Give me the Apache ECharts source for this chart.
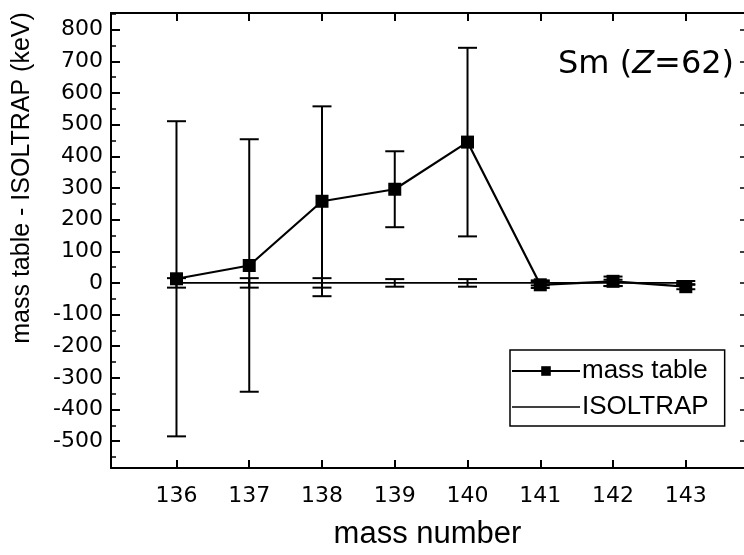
<!DOCTYPE html>
<html>
<head>
<meta charset="utf-8">
<script src="https://cdn.jsdelivr.net/npm/echarts@6/dist/echarts.min.js"></script>
<style>
html,body{margin:0;padding:0;background:#fff;}
#chart{width:744px;height:555px;}
</style>
</head>
<body>
<div id="chart"></div>
<script>
const masses = [136, 137, 138, 139, 140, 141, 142, 143];
const massTable = [13, 55, 258, 296, 445, -6, 5, -12];
const massTableErr = [498, 399, 300, 120, 298, 10, 15, 8];
const isoltrap = [0, 0, 0, 0, 0, 0, 0, 0];
const isoltrapErr = [15, 15, 15, 12, 12, 8, 10, 6];
const yTicks = [-500, -400, -300, -200, -100, 0, 100, 200, 300, 400, 500, 600, 700, 800];
const yMinorTicks = [-550, -450, -350, -250, -150, -50, 50, 150, 250, 350, 450, 550, 650, 750, 850];

const ARIAL = 'Liberation Sans, Arial, Helvetica, sans-serif';
const WIDE = 'DejaVu Sans, Liberation Sans, sans-serif';
const X_MIN = 135.1, X_MAX = 143.8, Y_MIN = -585, Y_MAX = 853;

function errData(vals, errs) {
  return masses.map((m, i) => [m, vals[i] - errs[i], vals[i] + errs[i]]);
}
function errRender(params, api) {
  const x = api.value(0);
  const lo = api.coord([x, api.value(1)]);
  const hi = api.coord([x, api.value(2)]);
  const w = 9.5;
  const style = { stroke: '#000', lineWidth: 2 };
  return {
    type: 'group',
    children: [
      { type: 'line', shape: { x1: lo[0], y1: lo[1], x2: hi[0], y2: hi[1] }, style },
      { type: 'line', shape: { x1: lo[0] - w, y1: lo[1], x2: lo[0] + w, y2: lo[1] }, style },
      { type: 'line', shape: { x1: hi[0] - w, y1: hi[1], x2: hi[0] + w, y2: hi[1] }, style }
    ]
  };
}

const chart = echarts.init(document.getElementById('chart'), null, { renderer: 'canvas' });
const axisLine = { show: true, onZero: false, lineStyle: { color: '#000', width: 2 } };
const option = {
  animation: false,
  backgroundColor: '#fff',
  grid: { left: 111, top: 13, right: 0, bottom: 82, containLabel: false },
  title: {
    text: '{a|Sm (}{b|Z}{a|=62)}',
    left: 553, top: 44,
    textStyle: {
      rich: {
        a: { fontFamily: WIDE, fontSize: 32, color: '#000', fontWeight: 'normal' },
        b: { fontFamily: WIDE, fontSize: 32, color: '#000', fontWeight: 'normal', fontStyle: 'italic' }
      }
    }
  },
  legend: {
    orient: 'vertical',
    left: 510, top: 350,
    padding: [8, 16, 6, 1],
    itemGap: 10,
    itemWidth: 68, itemHeight: 12,
    borderColor: '#000', borderWidth: 1.5,
    textStyle: { fontFamily: ARIAL, fontSize: 26, color: '#000', padding: [0, 0, 0, -3] },
    data: [
      { name: 'mass table' },
      { name: 'ISOLTRAP', icon: 'path://M0,0 L40,0 L40,1 L0,1 Z' }
    ]
  },
  xAxis: [
    {
      type: 'value', min: X_MIN, max: X_MAX, position: 'bottom',
      axisLine,
      splitLine: { show: false },
      axisTick: { show: true, inside: true, length: 8, lineStyle: { width: 2, color: '#000' }, customValues: masses },
      axisLabel: { fontFamily: WIDE, fontSize: 22, color: '#000', margin: 17, customValues: masses, formatter: v => String(Math.round(v)) },
      name: 'mass number', nameLocation: 'middle', nameGap: 51,
      nameTextStyle: { fontFamily: ARIAL, fontSize: 31, color: '#000' }
    },
    {
      type: 'value', min: X_MIN, max: X_MAX, position: 'top',
      axisLine,
      splitLine: { show: false },
      axisTick: { show: true, inside: true, length: 8, lineStyle: { width: 2, color: '#000' }, customValues: masses },
      axisLabel: { show: false }
    }
  ],
  yAxis: [
    {
      type: 'value', min: Y_MIN, max: Y_MAX, position: 'left',
      axisLine,
      splitLine: { show: false },
      axisTick: { show: true, inside: true, length: 9, lineStyle: { width: 2, color: '#000' }, customValues: yTicks },
      axisLabel: { fontFamily: WIDE, fontSize: 22, color: '#000', margin: 8, customValues: yTicks }
    },
    {
      type: 'value', min: Y_MIN, max: Y_MAX, position: 'left',
      axisLine: { show: false },
      splitLine: { show: false },
      axisTick: { show: true, inside: true, length: 5, lineStyle: { width: 1.5, color: '#000' }, customValues: yMinorTicks },
      axisLabel: { show: false }
    },
    {
      type: 'value', min: Y_MIN, max: Y_MAX, position: 'right',
      axisLine: { show: false },
      splitLine: { show: false },
      axisTick: { show: true, inside: true, length: 4, lineStyle: { width: 1.5, color: '#000' }, customValues: yTicks },
      axisLabel: { show: false }
    }
  ],
  graphic: [
    {
      type: 'text', x: 22, y: 178, rotation: Math.PI / 2,
      style: {
        text: 'mass table - ISOLTRAP (keV)', fontFamily: ARIAL, fontSize: 25, fill: '#000',
        align: 'center', verticalAlign: 'middle'
      }
    }
  ],
  series: [
    {
      name: 'ISOLTRAP', type: 'line', xAxisIndex: 0, yAxisIndex: 0,
      data: masses.map((m, i) => [m, isoltrap[i]]),
      symbol: 'none',
      lineStyle: { color: '#000', width: 1.8 }, itemStyle: { color: '#000' }, z: 3
    },
    {
      name: 'ISOLTRAP err', type: 'custom', xAxisIndex: 0, yAxisIndex: 0,
      data: errData(isoltrap, isoltrapErr), renderItem: errRender, z: 3,
      encode: { x: 0, y: [1, 2] }
    },
    {
      name: 'mass table', type: 'line', xAxisIndex: 0, yAxisIndex: 0,
      data: masses.map((m, i) => [m, massTable[i]]),
      symbol: 'rect', symbolSize: 13,
      lineStyle: { color: '#000', width: 2.2 }, itemStyle: { color: '#000' }, z: 4
    },
    {
      name: 'mass table err', type: 'custom', xAxisIndex: 0, yAxisIndex: 0,
      data: errData(massTable, massTableErr), renderItem: errRender, z: 4,
      encode: { x: 0, y: [1, 2] }
    }
  ]
};
chart.setOption(option);
</script>
</body>
</html>
